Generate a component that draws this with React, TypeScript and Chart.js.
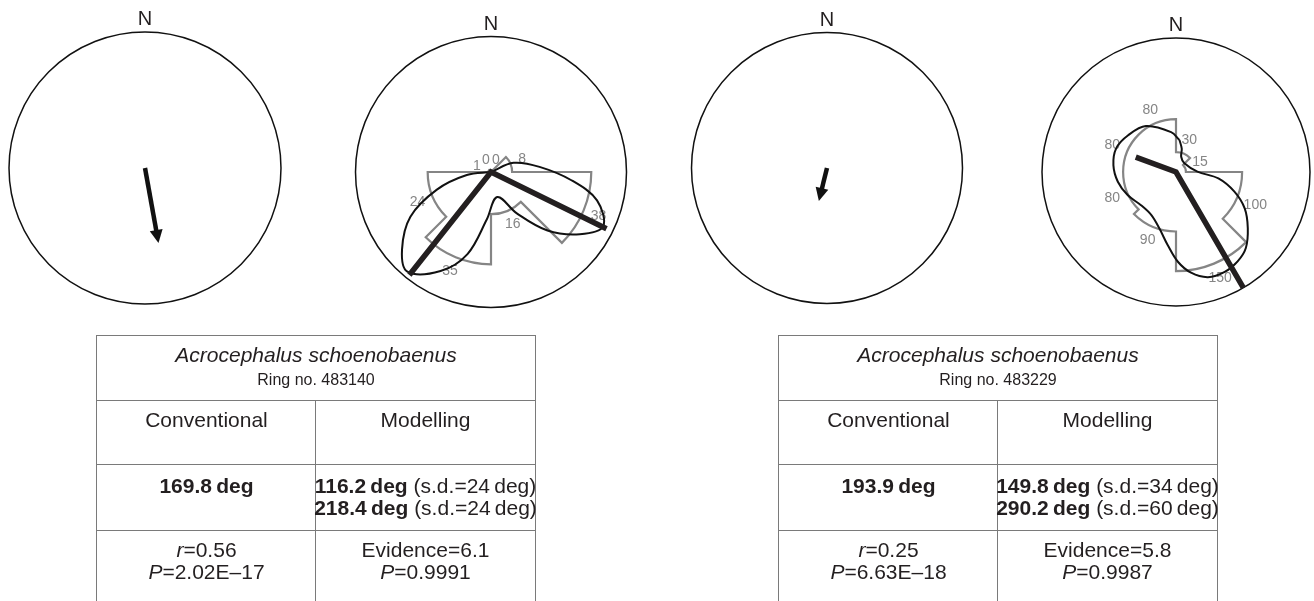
import React, { useEffect, useRef } from "react";
import { Chart, registerables } from "chart.js";

Chart.register(...registerables);

// ---------------- DATA ----------------
const SECTOR_START_DEG = [0, 45, 90, 135, 180, 225, 270, 315];
const SECTOR_WIDTH_DEG = 45;

// Bird 1 — Ring no. 483140
const BIRD1_SPECIES = "Acrocephalus schoenobaenus";
const BIRD1_RING = "483140";
const BIRD1_CONV_MEAN = 169.8;
const BIRD1_CONV_R = 0.56;
const BIRD1_CONV_P = "2.02E–17";
const BIRD1_COUNTS = [0, 8, 38, 16, 35, 24, 1, 0];
const BIRD1_MODEL_MEANS = [116.2, 218.4];
const BIRD1_MODEL_SD = [24, 24];
const BIRD1_MODEL_LENGTHS = [0.95, 0.97];
const BIRD1_EVIDENCE = 6.1;
const BIRD1_MODEL_P = 0.9991;
const BIRD1_LOOP_BEARING = [0, 68, 84, 96, 105, 116, 125, 136, 148, 166, 185, 196, 207, 220, 229, 241, 252, 263, 360];
const BIRD1_LOOP_RADIUS = [0, 0.18, 0.36, 0.6, 0.81, 0.92, 0.8, 0.6, 0.36, 0.19, 0.35, 0.63, 0.82, 0.96, 0.87, 0.68, 0.42, 0.18, 0];

// Bird 2 — Ring no. 483229
const BIRD2_SPECIES = "Acrocephalus schoenobaenus";
const BIRD2_RING = "483229";
const BIRD2_CONV_MEAN = 193.9;
const BIRD2_CONV_R = 0.25;
const BIRD2_CONV_P = "6.63E–18";
const BIRD2_COUNTS = [30, 15, 100, 150, 90, 80, 80, 80];
const BIRD2_MODEL_MEANS = [149.8, 290.2];
const BIRD2_MODEL_SD = [34, 60];
const BIRD2_MODEL_LENGTHS = [1.0, 0.32];
const BIRD2_EVIDENCE = 5.8;
const BIRD2_MODEL_P = 0.9987;
const BIRD2_LOOP_BEARING = [6.2, 13.8, 18.8, 44, 89, 98.6, 108.6, 117.9, 128, 137.4, 145.4, 154, 163.1, 171.5, 178.8, 186.4, 196.3, 210, 226.5, 244.5, 260.5, 276.3, 291.6, 307.5, 326.7, 353, 366.2];
const BIRD2_LOOP_RADIUS = [0.24, 0.18, 0.12, 0.09, 0.16, 0.32, 0.46, 0.58, 0.68, 0.77, 0.81, 0.83, 0.82, 0.76, 0.67, 0.55, 0.44, 0.37, 0.36, 0.4, 0.44, 0.47, 0.48, 0.45, 0.41, 0.3, 0.24];

// ---------------- STYLE ----------------
const FONT = '"Liberation Sans", Arial, Helvetica, sans-serif';
const INK = "#231f20";
const GRAY = "#858585";
const HIST_MAX_FRAC = 0.74;
const CANVAS_SIZE = 340;

type PanelCfg = {
  cx: number;
  cy: number;
  R: number;
  convMean?: number;
  convR?: number;
  counts?: number[];
  means?: number[];
  lengths?: number[];
  loopB?: number[];
  loopR?: number[];
};

const rad = (d: number) => (d * Math.PI) / 180;
const polar = (b: number, r: number) => ({ x: r * Math.sin(rad(b)), y: r * Math.cos(rad(b)) });

function makePlugin(cfg: PanelCfg) {
  return {
    id: "compass",
    beforeDatasetsDraw(chart: any) {
      const ctx = chart.ctx as CanvasRenderingContext2D;
      const sx = chart.scales.x;
      const sy = chart.scales.y;
      const cx = sx.getPixelForValue(0);
      const cy = sy.getPixelForValue(0);
      const R = sx.getPixelForValue(1) - cx;
      ctx.save();
      // outer circle
      ctx.beginPath();
      ctx.arc(cx, cy, R, 0, Math.PI * 2);
      ctx.lineWidth = 1.5;
      ctx.strokeStyle = "#111";
      ctx.stroke();
      // N label
      ctx.fillStyle = INK;
      ctx.font = `20px ${FONT}`;
      ctx.textAlign = "center";
      ctx.textBaseline = "alphabetic";
      ctx.fillText("N", cx, cy - R - 7);
      // histogram outline
      if (cfg.counts) {
        const maxC = Math.max(...cfg.counts);
        ctx.beginPath();
        cfg.counts.forEach((c, i) => {
          const rr = (c / maxC) * HIST_MAX_FRAC * R;
          const a0 = rad(SECTOR_START_DEG[i] - 90);
          const a1 = a0 + rad(SECTOR_WIDTH_DEG);
          ctx.arc(cx, cy, rr, a0, a1);
        });
        ctx.closePath();
        ctx.strokeStyle = GRAY;
        ctx.lineWidth = 2.2;
        ctx.lineJoin = "miter";
        ctx.stroke();
        // count labels
        ctx.fillStyle = GRAY;
        ctx.font = `14px ${FONT}`;
        ctx.textBaseline = "middle";
        cfg.counts.forEach((c, i) => {
          const txt = String(c);
          const w = ctx.measureText(txt).width;
          const b = SECTOR_START_DEG[i] + SECTOR_WIDTH_DEG / 2;
          const s = Math.sin(rad(b));
          const co = Math.cos(rad(b));
          const off = 7 + Math.abs(s) * (w / 2) + Math.abs(co) * 5;
          const rr = (c / maxC) * HIST_MAX_FRAC * R + off;
          ctx.fillText(txt, cx + rr * s, cy - rr * co);
        });
      }
      ctx.restore();
    },
    afterDatasetsDraw(chart: any) {
      if (cfg.convMean === undefined || cfg.convR === undefined) return;
      const ctx = chart.ctx as CanvasRenderingContext2D;
      const sx = chart.scales.x;
      const sy = chart.scales.y;
      const cx = sx.getPixelForValue(0);
      const cy = sy.getPixelForValue(0);
      const tip = polar(cfg.convMean, cfg.convR);
      const tx = sx.getPixelForValue(tip.x);
      const ty = sy.getPixelForValue(tip.y);
      const ux = Math.sin(rad(cfg.convMean));
      const uy = -Math.cos(rad(cfg.convMean));
      const headLen = 13;
      const headHalf = 6.5;
      ctx.save();
      ctx.strokeStyle = "#111";
      ctx.fillStyle = "#111";
      ctx.lineWidth = 4.5;
      ctx.lineCap = "butt";
      ctx.beginPath();
      ctx.moveTo(cx, cy);
      ctx.lineTo(tx - ux * headLen * 0.8, ty - uy * headLen * 0.8);
      ctx.stroke();
      const bx = tx - ux * headLen;
      const by = ty - uy * headLen;
      ctx.beginPath();
      ctx.moveTo(tx, ty);
      ctx.lineTo(bx - uy * headHalf, by + ux * headHalf);
      ctx.lineTo(bx + uy * headHalf, by - ux * headHalf);
      ctx.closePath();
      ctx.fill();
      ctx.restore();
    },
  };
}

function CompassPanel({ cfg }: { cfg: PanelCfg }) {
  const ref = useRef<HTMLCanvasElement | null>(null);
  useEffect(() => {
    if (!ref.current) return;
    const m = CANVAS_SIZE / 2 / cfg.R;
    const datasets: any[] = [];
    if (cfg.means && cfg.lengths) {
      datasets.push({
        data: [polar(cfg.means[0], cfg.lengths[0]), { x: 0, y: 0 }, polar(cfg.means[1], cfg.lengths[1])],
        showLine: true,
        borderColor: INK,
        borderWidth: 5.5,
        pointRadius: 0,
        tension: 0,
        borderJoinStyle: "miter",
        borderCapStyle: "butt",
        clip: false,
        order: 0,
      });
    }
    if (cfg.loopB && cfg.loopR) {
      const lr = cfg.loopR;
      datasets.push({
        data: cfg.loopB.map((b, i) => polar(b, lr[i])),
        showLine: true,
        borderColor: "#111",
        borderWidth: 2,
        pointRadius: 0,
        tension: 0.35,
        fill: false,
        clip: false,
        order: 1,
      });
    }
    const chart = new Chart(ref.current, {
      type: "scatter",
      data: { datasets },
      options: {
        responsive: false,
        maintainAspectRatio: false,
        animation: false,
        events: [],
        layout: { padding: 0 },
        plugins: { legend: { display: false }, tooltip: { enabled: false } },
        scales: {
          x: { type: "linear", display: false, min: -m, max: m },
          y: { type: "linear", display: false, min: -m, max: m },
        },
      },
      plugins: [makePlugin(cfg)],
    } as any);
    return () => chart.destroy();
  }, [cfg]);
  return (
    <canvas
      ref={ref}
      width={CANVAS_SIZE}
      height={CANVAS_SIZE}
      style={{
        position: "absolute",
        left: cfg.cx - CANVAS_SIZE / 2,
        top: cfg.cy - CANVAS_SIZE / 2,
        width: CANVAS_SIZE,
        height: CANVAS_SIZE,
      }}
    />
  );
}

type TableCfg = {
  left: number;
  mid: number;
  right: number;
  species: string;
  ring: string;
  convMean: number;
  convR: number;
  convP: string;
  means: number[];
  sds: number[];
  evidence: number;
  modelP: number;
};

const THIN = "\u2009";

function DataTable({ t }: { t: TableCfg }) {
  const border = "1.5px solid #7a7a7a";
  const top = 334.5;
  const rowLines = [399.5, 463.5, 529.5];
  const leftCenterW = t.mid - t.left;
  const rightW = t.right - t.mid;
  const cell = (l: number, w: number, tp: number, children: React.ReactNode) => (
    <div
      style={{
        position: "absolute",
        left: l,
        width: w,
        top: tp,
        textAlign: "center",
        whiteSpace: "nowrap",
        fontSize: 21,
        lineHeight: "22px",
        display: "flex",
        flexDirection: "column",
        alignItems: "center",
      }}
    >
      {children}
    </div>
  );
  return (
    <>
      <div
        style={{
          position: "absolute",
          left: t.left - 0.75,
          top,
          width: t.right - t.left + 1.5,
          height: 320,
          borderLeft: border,
          borderRight: border,
          borderTop: border,
          boxSizing: "border-box",
        }}
      />
      {rowLines.map((y, i) => (
        <div
          key={i}
          style={{ position: "absolute", left: t.left, top: y, width: t.right - t.left, height: 0, borderTop: border }}
        />
      ))}
      <div style={{ position: "absolute", left: t.mid - 0.75, top: 400, width: 0, height: 220, borderLeft: border }} />
      {cell(
        t.left,
        t.right - t.left,
        343.5,
        <>
          <div style={{ fontStyle: "italic" }}>{t.species}</div>
          <div style={{ fontSize: 16, marginTop: 3 }}>Ring no. {t.ring}</div>
        </>
      )}
      {cell(t.left, leftCenterW, 409, <div>Conventional</div>)}
      {cell(t.mid, rightW, 409, <div>Modelling</div>)}
      {cell(
        t.left,
        leftCenterW,
        474.75,
        <div style={{ fontWeight: "bold" }}>
          {t.convMean.toFixed(1)}
          {THIN}deg
        </div>
      )}
      {cell(
        t.mid,
        rightW,
        474.75,
        <>
          {t.means.map((m, i) => (
            <div key={i}>
              <b>
                {m.toFixed(1)}
                {THIN}deg
              </b>{" "}
              (s.d.={t.sds[i]}
              {THIN}deg)
            </div>
          ))}
        </>
      )}
      {cell(
        t.left,
        leftCenterW,
        538.75,
        <>
          <div>
            <i>r</i>={t.convR.toFixed(2)}
          </div>
          <div>
            <i>P</i>={t.convP}
          </div>
        </>
      )}
      {cell(
        t.mid,
        rightW,
        538.75,
        <>
          <div>Evidence={t.evidence.toFixed(1)}</div>
          <div>
            <i>P</i>={t.modelP.toFixed(4)}
          </div>
        </>
      )}
    </>
  );
}

const PANELS: PanelCfg[] = [
  { cx: 145, cy: 167.5, R: 136, convMean: BIRD1_CONV_MEAN, convR: BIRD1_CONV_R },
  {
    cx: 490.5,
    cy: 172,
    R: 135.5,
    counts: BIRD1_COUNTS,
    means: BIRD1_MODEL_MEANS,
    lengths: BIRD1_MODEL_LENGTHS,
    loopB: BIRD1_LOOP_BEARING,
    loopR: BIRD1_LOOP_RADIUS,
  },
  { cx: 826.5, cy: 167.5, R: 135.5, convMean: BIRD2_CONV_MEAN, convR: BIRD2_CONV_R },
  {
    cx: 1176,
    cy: 172,
    R: 134,
    counts: BIRD2_COUNTS,
    means: BIRD2_MODEL_MEANS,
    lengths: BIRD2_MODEL_LENGTHS,
    loopB: BIRD2_LOOP_BEARING,
    loopR: BIRD2_LOOP_RADIUS,
  },
];

const TABLES: TableCfg[] = [
  {
    left: 97,
    mid: 316,
    right: 535,
    species: BIRD1_SPECIES,
    ring: BIRD1_RING,
    convMean: BIRD1_CONV_MEAN,
    convR: BIRD1_CONV_R,
    convP: BIRD1_CONV_P,
    means: BIRD1_MODEL_MEANS,
    sds: BIRD1_MODEL_SD,
    evidence: BIRD1_EVIDENCE,
    modelP: BIRD1_MODEL_P,
  },
  {
    left: 779,
    mid: 998,
    right: 1217,
    species: BIRD2_SPECIES,
    ring: BIRD2_RING,
    convMean: BIRD2_CONV_MEAN,
    convR: BIRD2_CONV_R,
    convP: BIRD2_CONV_P,
    means: BIRD2_MODEL_MEANS,
    sds: BIRD2_MODEL_SD,
    evidence: BIRD2_EVIDENCE,
    modelP: BIRD2_MODEL_P,
  },
];

export default function App() {
  return (
    <div
      style={{
        position: "absolute",
        left: 0,
        top: 0,
        width: 1314,
        height: 601,
        overflow: "hidden",
        background: "#fff",
        fontFamily: FONT,
        color: INK,
      }}
    >
      {PANELS.map((p, i) => (
        <CompassPanel key={i} cfg={p} />
      ))}
      {TABLES.map((t, i) => (
        <DataTable key={i} t={t} />
      ))}
    </div>
  );
}
